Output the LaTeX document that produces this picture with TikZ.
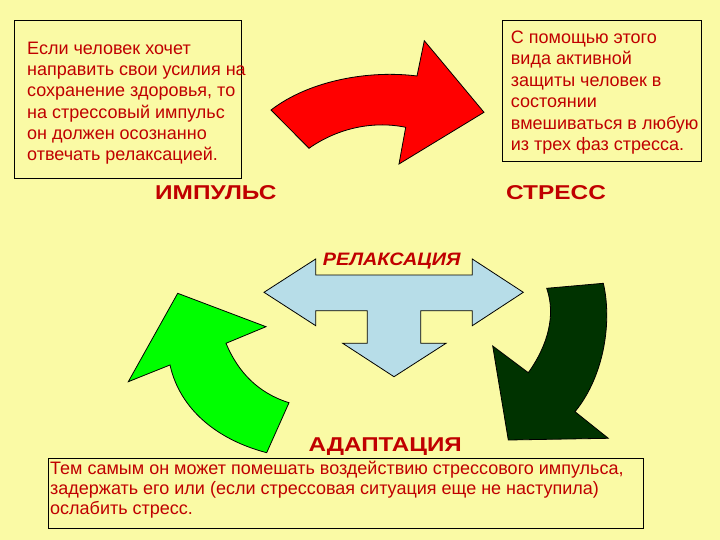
\documentclass[tikz,border=0pt]{standalone}
\usepackage{fontspec}
\setmainfont{Liberation Sans}
\definecolor{bg}{RGB}{250,250,165}
\definecolor{txt}{RGB}{192,0,0}
\definecolor{lblue}{RGB}{183,221,232}
\definecolor{dgreen}{RGB}{0,51,0}
\begin{document}
\begin{tikzpicture}[x=1pt,y=-1pt,
  arrowshape/.style={draw=black,line width=0.8pt,line join=miter},
  textbox/.style={draw=black,line width=1pt},
  bodytext/.style={text=txt,align=left,inner sep=0pt,anchor=north west},
  biglabel/.style={text=txt,font=\bfseries\fontsize{20}{24}\selectfont,inner sep=0pt}]
\fill[bg] (0,0) rectangle (720,540);
\useasboundingbox (0,0) rectangle (720,540);

% text boxes
\draw[textbox] (14,21) rectangle (241,179);
\draw[textbox] (502,21) rectangle (701,162);
\draw[textbox] (48,458) rectangle (643,528);

% red arrow
\filldraw[arrowshape,fill=red] (271,110) .. controls (310,80) and (370,70) .. (417,76)
  -- (424.3,40.7) -- (484,112.3) -- (399,164) -- (405.7,127.3)
  .. controls (370,120) and (335,130) .. (309,148.3) -- cycle;

% dark green arrow
\filldraw[arrowshape,fill=dgreen] (546.7,288.3) -- (603.3,283.3)
  .. controls (612,320) and (605,375) .. (575,411.7)
  -- (608.3,438.3) -- (508.3,440) -- (492.7,346) -- (528.3,372.7)
  .. controls (548,345) and (556,315) .. (546.7,288.3) -- cycle;

% green arrow
\filldraw[arrowshape,fill=green] (177.7,293.3) -- (266,326.7) -- (226,343.3)
  .. controls (238,372) and (258,393) .. (289,402.7)
  -- (266.7,452.7) .. controls (218,440) and (180,410) .. (170,365)
  -- (128.3,381.7) -- cycle;

% light blue T arrow
\filldraw[arrowshape,fill=lblue] (264,292.3) -- (315.7,259) -- (315.7,275) -- (472.3,275)
  -- (472.3,259) -- (523.3,292.3) -- (472.3,325.7) -- (472.3,310.7) -- (420.7,310.7)
  -- (420.7,343.3) -- (446,343.3) -- (394,376.7) -- (342.7,343.3) -- (367.3,343.3)
  -- (367.3,310.7) -- (315.7,310.7) -- (315.7,325.7) -- cycle;

% texts
\node[bodytext,font=\fontsize{18}{21.3}\selectfont] (t1) at (27,41.7)
  {Если человек хочет\\направить свои усилия на\\сохранение здоровья, то\\на стрессовый импульс\\он должен осознанно\\отвечать релаксацией.};
\node[bodytext,font=\fontsize{18}{21.5}\selectfont] (t2) at (510.7,30.7)
  {С помощью этого\\вида активной\\защиты человек в\\состоянии\\вмешиваться в любую\\из трех фаз стресса.};
\node[bodytext,font=\fontsize{18}{20}\selectfont] (t3) at (50,461)
  {Тем самым он может помешать воздействию стрессового импульса,\\задержать его или (если стрессовая ситуация еще не наступила)\\ослабить стресс.};

\node[biglabel,anchor=west] (imp) at (155,193) {\scalebox{1.22}[1]{ИМПУЛЬС}};
\node[biglabel,anchor=west] (str) at (506,193) {\scalebox{1.22}[1]{СТРЕСС}};
\node[biglabel,anchor=base west] (ada) at (308.3,451) {\scalebox{1.21}[1]{АДАПТАЦИЯ}};
\node[text=txt,font=\bfseries\itshape\fontsize{18}{22}\selectfont,inner sep=0pt,anchor=base west] (rel) at (322.7,265) {\scalebox{1.1}[1]{РЕЛАКСАЦИЯ}};
\end{tikzpicture}
\end{document}
